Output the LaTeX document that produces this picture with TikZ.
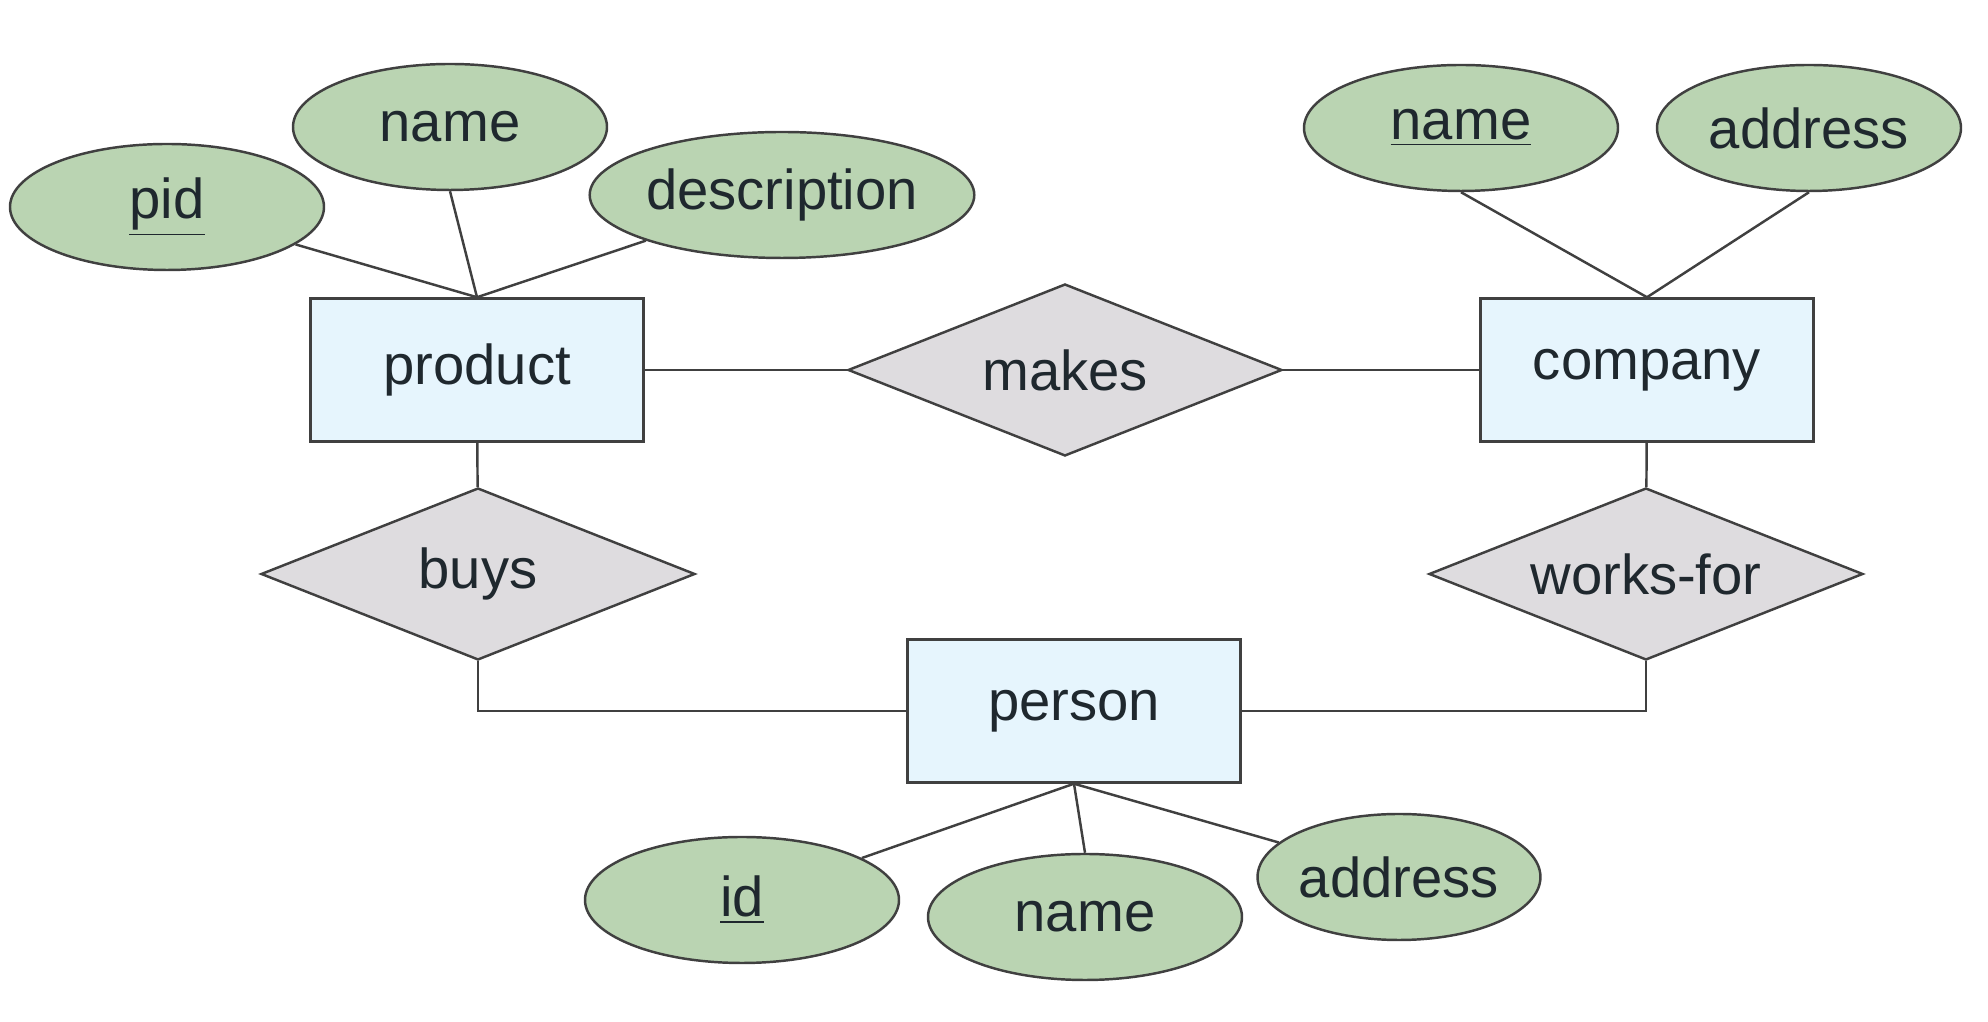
\documentclass[tikz,border=0pt]{standalone}
\usepackage{fontspec}
\setmainfont{Liberation Sans}
\usepackage{tikz}
\usetikzlibrary{shapes.geometric, positioning}
\definecolor{attrgreen}{RGB}{186,212,178}
\definecolor{entblue}{RGB}{230,245,253}
\definecolor{relgrey}{RGB}{222,220,223}
\definecolor{edgegrey}{RGB}{64,64,64}
\definecolor{txtdark}{RGB}{31,40,46}
\tikzset{
  entity/.style={draw=edgegrey, line width=0.7pt, fill=entblue, minimum width=3.33cm, minimum height=1.43cm, text=txtdark, font=\fontsize{16}{18}\selectfont},
  relation/.style={diamond, aspect=2.5, draw=edgegrey, line width=0.7pt, fill=relgrey, inner sep=0pt, minimum width=4.34cm, minimum height=1.72cm, text=txtdark, font=\fontsize{16}{18}\selectfont},
  attrib/.style={ellipse, draw=edgegrey, line width=0.7pt, fill=attrgreen, inner sep=0pt, minimum width=3.14cm, minimum height=1.26cm, text=txtdark, font=\fontsize{16}{18}\selectfont},
  link/.style={edgegrey, line width=0.7pt}
}
\begin{document}
\begin{tikzpicture}
  \useasboundingbox (0,0) rectangle (19.88,10.22);
  % entities
  \node[entity] (product) at (4.77,6.52) {product};
  \node[entity] (company) at (16.47,6.52) {company};
  \node[entity] (person) at (10.74,3.11) {person};
  % relationships
  \node[relation] (makes) at (10.65,6.52) {makes};
  \node[relation] (buys) at (4.78,4.48) {buys};
  \node[relation] (works) at (16.46,4.48) {works-for};
  % attributes
  \node[attrib] (pid) at (1.67,8.15) {\underline{pid}};
  \node[attrib] (pname) at (4.50,8.95) {name};
  \node[attrib, minimum width=3.58cm] (pdesc) at (7.82,8.27) {description};
  \node[attrib] (cname) at (14.61,8.94) {\underline{name}};
  \node[attrib, minimum width=3.04cm] (caddr) at (18.09,8.94) {address};
  \node[attrib] (pid2) at (7.42,1.22) {\underline{id}};
  \node[attrib] (perName) at (10.85,1.05) {name};
  \node[attrib, minimum width=2.82cm] (perAddr) at (13.99,1.45) {address};
  % connectors
  \draw[link] (pid) -- (product.north);
  \draw[link] (pname.south) -- (product.north);
  \draw[link] (pdesc) -- (product.north);
  \draw[link] (cname.south) -- (company.north);
  \draw[link] (caddr.south) -- (company.north);
  \draw[link] (pid2) -- (person.south);
  \draw[link] (perName.north) -- (person.south);
  \draw[link] (perAddr) -- (person.south);
  \draw[link] (product) -- (makes);
  \draw[link] (makes) -- (company);
  \draw[link] (product) -- (buys);
  \draw[link] (company) -- (works);
  \draw[link] (buys.south) |- (person.west);
  \draw[link] (works.south) |- (person.east);
\end{tikzpicture}
\end{document}
